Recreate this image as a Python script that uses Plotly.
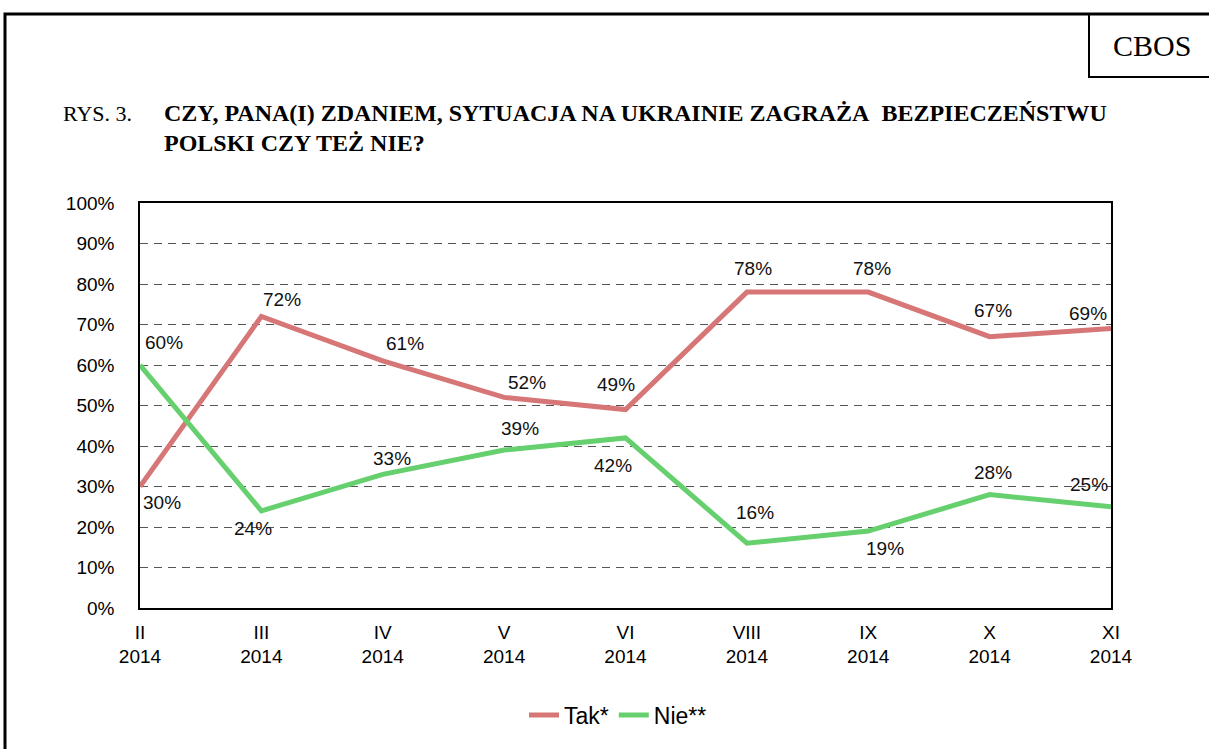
import plotly.graph_objects as go

categories = ["II<br>2014", "III<br>2014", "IV<br>2014", "V<br>2014", "VI<br>2014",
              "VIII<br>2014", "IX<br>2014", "X<br>2014", "XI<br>2014"]
tak = [30, 72, 61, 52, 49, 78, 78, 67, 69]
nie = [60, 24, 33, 39, 42, 16, 19, 28, 25]
ytick_vals = list(range(0, 101, 10))
ytick_text = [f"{v}%" for v in ytick_vals]

W, H = 1209, 749
L, R, T, B = 140, 1111, 203, 608

RED = "#D77676"
GREEN = "#66D06E"
SANS = "Liberation Sans, Arial, sans-serif"
SERIF = "Liberation Serif, Times New Roman, serif"

fig = go.Figure()
fig.add_trace(go.Scatter(x=categories, y=tak, mode="lines", name="Tak*",
                         line=dict(color=RED, width=5)))
fig.add_trace(go.Scatter(x=categories, y=nie, mode="lines", name="Nie**",
                         line=dict(color=GREEN, width=5)))

# label offsets (x shift, y shift in px)
tak_off = [(22, -16), (21, 17), (22, 17), (23, 15), (-10, 25), (6, 24), (4, 24), (3, 26), (-23, 15)]
nie_off = [(24, 22), (-8, -18), (9, 16), (16, 22), (-13, -28), (8, 31), (17, -17), (3, 22), (-22, 22)]

annotations = []
for series, offs in ((tak, tak_off), (nie, nie_off)):
    for i, v in enumerate(series):
        annotations.append(dict(x=i, y=v, xref="x", yref="y", text=f"{v}%", showarrow=False,
                                xshift=offs[i][0], yshift=offs[i][1],
                                font=dict(family=SANS, size=19, color="#111111")))

annotations += [
    dict(x=61 / W, y=1 - 113 / H, xref="paper", yref="paper", xanchor="left", yanchor="middle",
         text="RYS. 3.", showarrow=False, font=dict(family=SERIF, size=22, color="black")),
    dict(x=162 / W, y=1 - 113 / H, xref="paper", yref="paper", xanchor="left", yanchor="middle",
         text="<b>CZY, PANA(I) ZDANIEM, SYTUACJA NA UKRAINIE ZAGRAŻA&nbsp; BEZPIECZEŃSTWU</b>",
         showarrow=False, font=dict(family=SERIF, size=24, color="black")),
    dict(x=162 / W, y=1 - 143 / H, xref="paper", yref="paper", xanchor="left", yanchor="middle",
         text="<b>POLSKI CZY TEŻ NIE?</b>", showarrow=False,
         font=dict(family=SERIF, size=24, color="black")),
    dict(x=1152 / W, y=1 - 45 / H, xref="paper", yref="paper", xanchor="center", yanchor="middle",
         text="CBOS", showarrow=False, font=dict(family=SERIF, size=30, color="black")),
]

shapes = [
    dict(type="rect", xref="paper", yref="paper", x0=5 / W, x1=1.02, y0=-0.02, y1=1 - 14 / H,
         line=dict(color="black", width=3), layer="below"),
    dict(type="rect", xref="paper", yref="paper", x0=1089 / W, x1=1.02, y0=1 - 77 / H, y1=1 - 14 / H,
         line=dict(color="black", width=2), layer="below"),
]

fig.update_layout(
    width=W, height=H,
    margin=dict(l=0, r=0, t=0, b=0, autoexpand=False),
    paper_bgcolor="white", plot_bgcolor="white",
    showlegend=True,
    legend=dict(orientation="h", x=618 / W, y=1 - 715 / H, xanchor="center", yanchor="middle",
                font=dict(family=SANS, size=23, color="black"),
                itemwidth=30, tracegroupgap=0, bgcolor="rgba(0,0,0,0)"),
    annotations=annotations,
    shapes=shapes,
    xaxis=dict(domain=[L / W, R / W], type="category", range=[0, len(categories) - 1],
               automargin=False,
               showgrid=False, showline=True, linecolor="black", linewidth=1.5, mirror=True,
               ticks="", ticklabelstandoff=6,
               tickfont=dict(family=SANS, size=19, color="black"),
               fixedrange=True),
    yaxis=dict(domain=[1 - B / H, 1 - T / H], range=[0, 100], tickvals=ytick_vals, ticktext=ytick_text,
               automargin=False,
               showgrid=True, gridcolor="#555555", griddash="8px,6px", gridwidth=1,
               showline=True, linecolor="black", linewidth=1.5, mirror=True, zeroline=False,
               ticks="", ticklabelstandoff=20,
               tickfont=dict(family=SANS, size=19, color="black"), fixedrange=True),
)

fig.write_html("out.html", config={"displayModeBar": False},
               post_script="document.body.style.margin='0';")
